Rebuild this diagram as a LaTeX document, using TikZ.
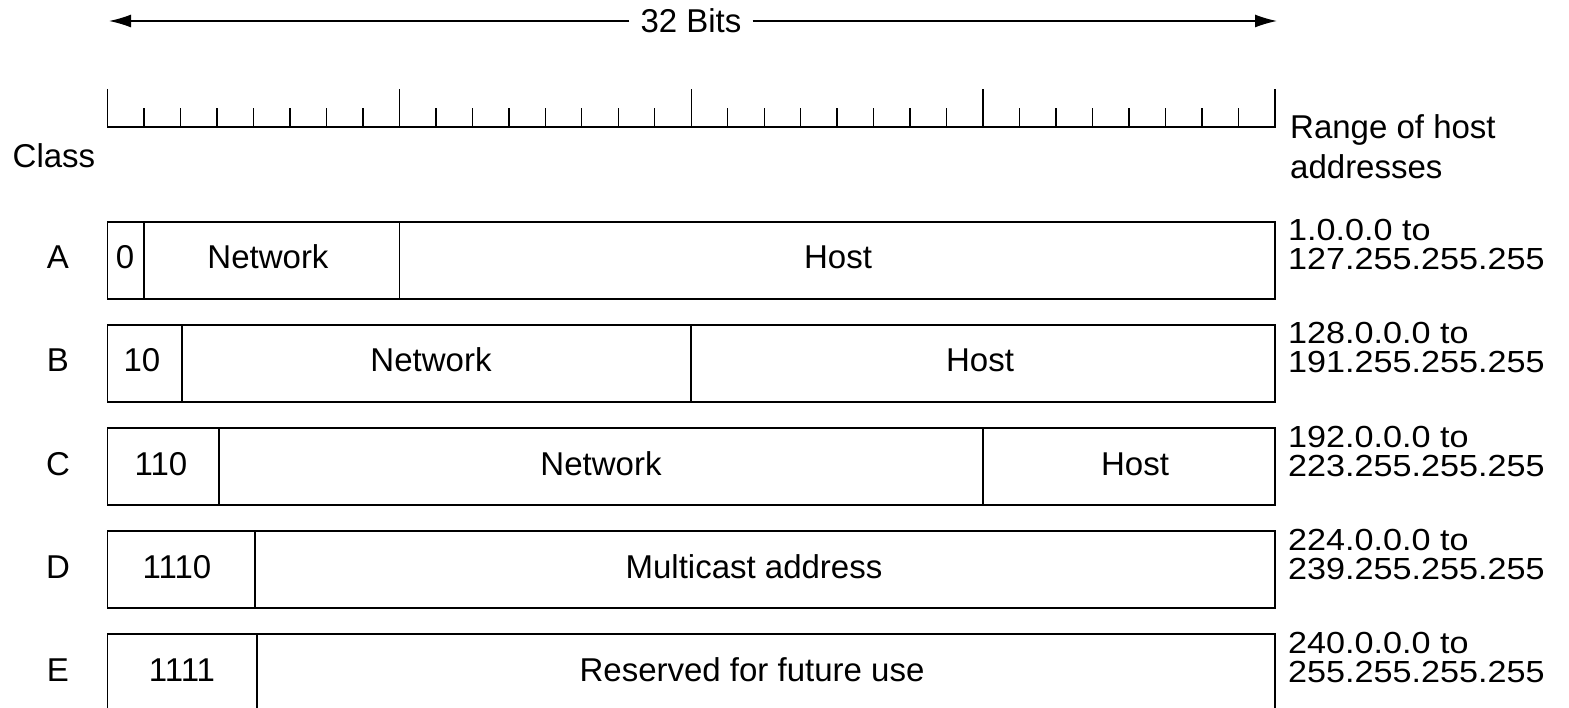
\documentclass[tikz,border=0pt]{standalone}
\usepackage{fontspec}
\setmainfont{Liberation Sans}
\newfontfamily\rangefont[FakeStretch=1.12]{Liberation Sans}
\usetikzlibrary{arrows.meta}
\begin{document}
\begin{tikzpicture}[
  x=1pt, y=-1pt,
  every node/.style={font=\fontsize{33}{33}\selectfont, inner sep=0pt},
  frame/.style={draw, line width=1.4pt},
  field/.style={anchor=base},
  hostrange/.style={anchor=base west, align=left, font=\rangefont\fontsize{30.5}{29}\selectfont},
  bitarrow/.style={-{Latex[length=22pt,width=13pt]}, line width=1.4pt},
]
\useasboundingbox (0,0) rectangle (1569,708);

% 32 bit arrow
\node[inner xsep=11pt] (bits) at (691,21) {32 Bits};
\coordinate (bitsL) at (109,21);
\coordinate (bitsR) at (1277,21);
\draw[bitarrow] (bits.west) -- (bitsL);
\draw[bitarrow] (bits.east) -- (bitsR);

% ruler, one tick per bit
\draw[frame] (107.5,89) -- (107.5,127) -- (1275,127) -- (1275,89);
\foreach \i in {1,...,31} {
  \pgfmathsetmacro\ticktop{mod(\i,8)==0 ? 89 : 108}
  \draw[frame] (107.5+\i*36.484,127) -- (107.5+\i*36.484,\ticktop);
}

\node[field] (class) at (54,168) {Class};
\node[anchor=base west, align=left, font=\fontsize{33}{40}\selectfont] (rangehd) at (1290,179) {Range of host\\addresses};

% class A
\node[field] (clsA) at (58,269) {A};
\draw[frame] (107.5,222) rectangle (1275,299);
\draw[frame] (144,222) -- (144,299);
\draw[frame] (399.5,222) -- (399.5,299);
\node[field] (prefA) at (125,269) {0};
\node[field] (netA) at (268,269) {Network};
\node[field] (hostA) at (838,269) {Host};
\node[hostrange] (rngA) at (1288,270) {1.0.0.0 to\\127.255.255.255};

% class B
\node[field] (clsB) at (58,372) {B};
\draw[frame] (107.5,325) rectangle (1275,402);
\draw[frame] (182,325) -- (182,402);
\draw[frame] (691,325) -- (691,402);
\node[field] (prefB) at (142,372) {10};
\node[field] (netB) at (431,372) {Network};
\node[field] (hostB) at (980,372) {Host};
\node[hostrange] (rngB) at (1288,373) {128.0.0.0 to\\191.255.255.255};

% class C
\node[field] (clsC) at (58,475) {C};
\draw[frame] (107.5,428) rectangle (1275,505);
\draw[frame] (219,428) -- (219,505);
\draw[frame] (983,428) -- (983,505);
\node[field] (prefC) at (161,475) {110};
\node[field] (netC) at (601,475) {Network};
\node[field] (hostC) at (1135,475) {Host};
\node[hostrange] (rngC) at (1288,476) {192.0.0.0 to\\223.255.255.255};

% class D
\node[field] (clsD) at (58,578) {D};
\draw[frame] (107.5,531) rectangle (1275,608);
\draw[frame] (255,531) -- (255,608);
\node[field] (prefD) at (177,578) {1110};
\node[field] (multD) at (754,578) {Multicast address};
\node[hostrange] (rngD) at (1288,579) {224.0.0.0 to\\239.255.255.255};

% class E
\node[field] (clsE) at (58,681) {E};
\draw[frame] (107.5,634) rectangle (1275,711);
\draw[frame] (257,634) -- (257,711);
\node[field] (prefE) at (182,681) {1111};
\node[field] (resE) at (752,681) {Reserved for future use};
\node[hostrange] (rngE) at (1288,682) {240.0.0.0 to\\255.255.255.255};
\end{tikzpicture}
\end{document}
